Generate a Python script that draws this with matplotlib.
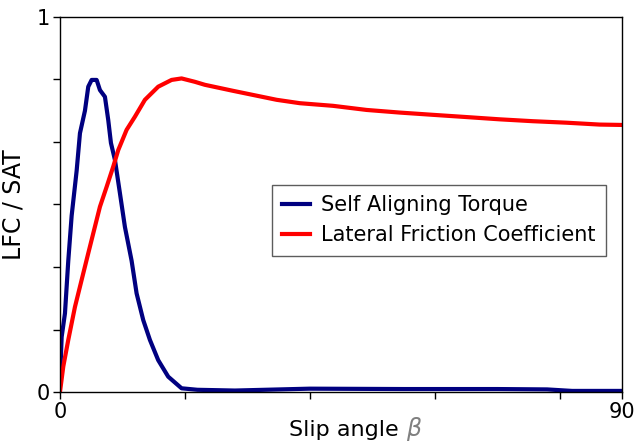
import matplotlib
matplotlib.use("Agg")
import matplotlib.pyplot as plt

# Self Aligning Torque (normalised)
sat_x = [0.0, 0.27, 0.8, 1.33, 1.87, 2.67, 3.2, 4.0, 4.53, 5.07, 5.87, 6.4, 7.2, 7.73,
         8.16, 8.8, 9.6, 10.4, 11.47, 12.27, 13.33, 14.4, 15.73, 17.33, 19.47, 22.0,
         28.0, 40.0, 55.0, 70.0, 78.0, 82.0, 90.0]
sat_y = [0.03, 0.147, 0.21, 0.35, 0.47, 0.59, 0.69, 0.75, 0.814, 0.832, 0.832, 0.805,
         0.787, 0.725, 0.664, 0.619, 0.53, 0.44, 0.35, 0.263, 0.192, 0.139, 0.085,
         0.041, 0.01, 0.006, 0.004, 0.009, 0.008, 0.008, 0.007, 0.003, 0.003]

# Lateral Friction Coefficient
lfc_x = [0.0, 0.53, 1.33, 2.4, 3.47, 4.53, 5.6, 6.4, 7.47, 8.53, 9.33, 10.67, 12.0,
         13.6, 15.73, 17.87, 19.47, 21.6, 23.2, 27.7, 34.7, 38.4, 43.7, 49.1, 54.4,
         59.7, 65.1, 70.4, 75.7, 81.1, 86.4, 90.0]
lfc_y = [0.0, 0.068, 0.139, 0.227, 0.299, 0.37, 0.441, 0.494, 0.547, 0.601, 0.645,
         0.699, 0.734, 0.779, 0.814, 0.832, 0.836, 0.827, 0.819, 0.803, 0.779, 0.77,
         0.763, 0.752, 0.745, 0.739, 0.733, 0.727, 0.722, 0.718, 0.713, 0.712]

x_ticks = [0, 20, 40, 60, 80, 90]
x_ticklabels = ["0", "", "", "", "", "90"]
y_ticks = [0, 1/6, 2/6, 3/6, 4/6, 5/6, 1]
y_ticklabels = ["0", "", "", "", "", "", "1"]

fig = plt.figure(figsize=(6.38, 4.45), dpi=100)
ax = fig.add_axes([0.094, 0.119, 0.881, 0.843])

ax.plot(sat_x, sat_y, color="#000080", lw=3.0, label="Self Aligning Torque")
ax.plot(lfc_x, lfc_y, color="#ff0000", lw=3.0, label="Lateral Friction Coefficient")

ax.set_xlim(0, 90)
ax.set_ylim(0, 1)
ax.set_xticks(x_ticks)
ax.set_xticklabels(x_ticklabels, fontsize=15)
ax.set_yticks(y_ticks)
ax.set_yticklabels(y_ticklabels, fontsize=15)
ax.tick_params(direction="out", length=5, width=1, pad=2)
for s in ax.spines.values():
    s.set_linewidth(1.0)
    s.set_color("black")

ax.set_ylabel("LFC / SAT", fontsize=17)
ax.yaxis.set_label_coords(-0.062, 0.5)
ax.text(0.615, -0.118, "Slip angle ", transform=ax.transAxes, fontsize=16,
        ha="right", va="baseline")
ax.text(0.615, -0.118, "$\\beta$", transform=ax.transAxes, fontsize=17,
        ha="left", va="baseline", color="#808080")

leg = ax.legend(loc="upper left", bbox_to_anchor=(0.377, 0.553), fontsize=15,
                frameon=True, fancybox=False, edgecolor="#333333", handlelength=1.35,
                borderaxespad=0, borderpad=0.5, labelspacing=0.5, handletextpad=0.5)
leg.get_frame().set_linewidth(1.0)

fig.savefig("out.png", dpi=100)
